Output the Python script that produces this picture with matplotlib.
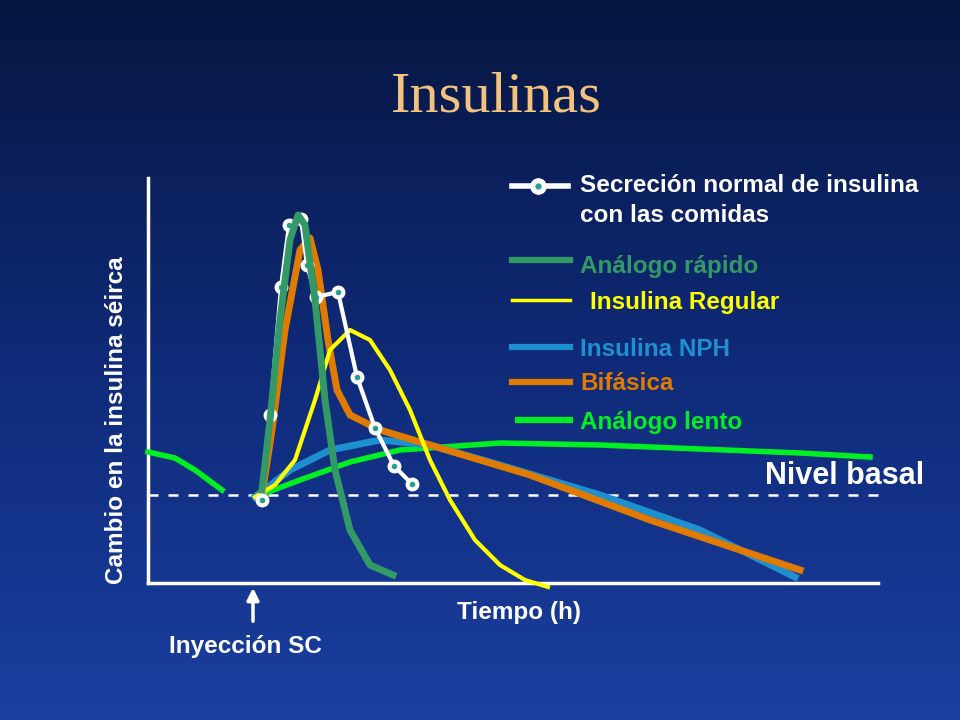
import numpy as np
import matplotlib
matplotlib.use("Agg")
import matplotlib.pyplot as plt
from matplotlib.colors import LinearSegmentedColormap

# data in picture coordinates (x: px, y: px from top)
normal_x = [262,270,281,289,301,307,316,338,357,375,394,412]
normal_y = [500,415,287,225,219,265,297,292,377,428,466,484]
rapid_x = [262,270,280,290,298,305,315,325,335,350,370,393]
rapid_y = [490,420,320,240,215,225,300,400,470,530,565,575]
bif_x = [262,272,285,300,310,318,328,337,350,380,430,530,650,800]
bif_y = [495,430,330,250,238,270,340,390,415,430,445,475,520,570]
reg_x = [255,275,295,315,330,350,370,390,410,430,450,475,500,525,548]
reg_y = [497,485,460,400,350,330,340,370,410,460,500,540,565,580,587]
nph_x = [255,290,330,380,430,500,600,700,795]
nph_y = [497,470,450,440,445,465,495,530,577]
lento0_x = [148,175,195,222]
lento0_y = [452,458,470,490]
lento_x = [255,300,350,400,500,600,700,800,870]
lento_y = [497,480,462,450,443,445,449,453,457]
basal_y = 495

fig = plt.figure(figsize=(9.6, 7.2), dpi=100)
ax = fig.add_axes([0, 0, 1, 1])
ax.set_xlim(0, 960); ax.set_ylim(720, 0); ax.axis("off")
grad = np.linspace(0, 1, 256)[:, None]
cm = LinearSegmentedColormap.from_list("bg", ["#071640", "#0f2a78", "#1a3fa0"])
ax.imshow(grad, extent=[0, 960, 720, 0], cmap=cm, aspect="auto", zorder=0)

ax.text(496, 97, "Insulinas", fontsize=42, family="Liberation Serif", color="#f2c27e", ha="center", va="center")
ax.plot([148,148],[178,583], color="white", lw=2.5)
ax.plot([148,878],[583,583], color="white", lw=2.5)
ax.plot([148,878],[basal_y,basal_y], color="white", lw=1.8, ls=(0,(4,4)))

ax.plot(lento0_x, lento0_y, color="#00ee22", lw=4)
ax.plot(lento_x, lento_y, color="#00ee22", lw=4)
ax.plot(nph_x, nph_y, color="#1e90d0", lw=5)
ax.plot(bif_x, bif_y, color="#e07b00", lw=5)
ax.plot(reg_x, reg_y, color="#ffff00", lw=3)
ax.plot(normal_x, normal_y, color="white", lw=3, marker="o", ms=9, mfc="white", mec="white")
ax.plot(normal_x, normal_y, ls="none", marker="o", ms=3, color="#2a9d8f")
ax.plot(rapid_x, rapid_y, color="#339966", lw=5)

tk = dict(fontsize=17.5, fontweight="bold", family="Liberation Sans", va="center")
ax.text(117, 420, "Cambio en la insulina séirca", rotation=90, color="white", ha="center", **tk)
ax.text(519, 612, "Tiempo (h)", color="white", ha="center", **tk)
ax.text(245, 647, "Inyección SC", color="white", ha="center", **tk)
ax.annotate("", xy=(253, 585), xytext=(253, 624), arrowprops=dict(arrowstyle="-|>", color="white", lw=2.5, mutation_scale=18))
ax.text(845, 476, "Nivel basal", color="white", ha="center", fontsize=22, fontweight="bold", family="Liberation Sans", va="center")

ax.plot([512,568],[186,186], color="white", lw=4)
ax.plot([538],[186], marker="o", ms=11, color="white")
ax.plot([538],[186], marker="o", ms=3.5, color="#2a9d8f")
ax.text(580, 186, "Secreción normal de insulina", color="white", ha="left", **tk)
ax.text(580, 216, "con las comidas", color="white", ha="left", **tk)
leg = [(260, 512, "#339966", 580, "Análogo rápido"),
       (300, 512, "#ffff00", 590, "Insulina Regular"),
       (347, 512, "#1e90d0", 580, "Insulina NPH"),
       (382, 512, "#e07b00", 580, "Bifásica"),
       (420, 518, "#00ee22", 580, "Análogo lento")]
for y, x0, c, tx, lab in leg:
    ax.plot([x0, 570], [y, y], color=c, lw=4.5 if c != "#ffff00" else 2.5)
    ax.text(tx, y + (6 if y == 260 else 2), lab, color=c, ha="left", **tk)

fig.savefig("out.png", dpi=100)
